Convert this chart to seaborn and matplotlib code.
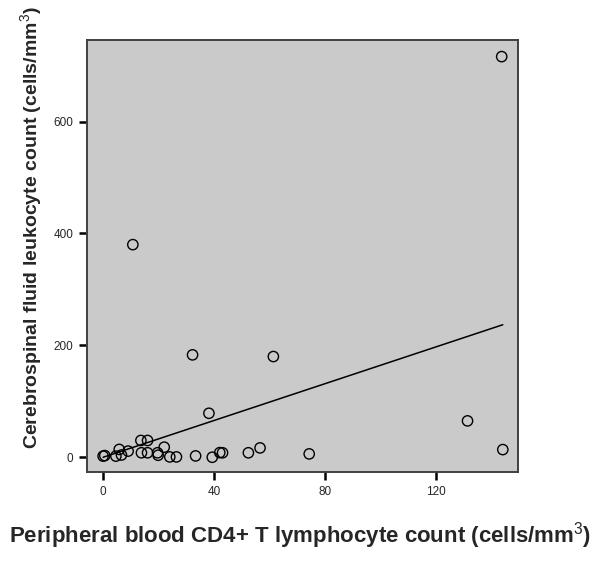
import matplotlib
matplotlib.use("Agg")
import matplotlib.pyplot as plt
import seaborn as sns
import pandas as pd

# ── Data ──────────────────────────────────────────────────────────────────
cd4_count = [0, 0.6, 4.6, 5.8, 6.6, 9, 10.7, 13.6, 16, 13.8, 16, 19.6, 19.8,
             22, 24, 26.4, 32.2, 33.3, 38.1, 39.3, 42, 43, 52.3, 56.5, 61.3,
             74.2, 131.2, 143.9, 143.5]
csf_leuko = [2, 3, 2, 14, 4, 11, 380, 30, 30, 8, 8, 8, 3.6,
             18, 0.6, 0.6, 183, 2.4, 78.6, 0, 8.3, 8, 8, 16.7, 180,
             6, 65, 13.7, 716]
x_ticks = [0, 40, 80, 120]
y_ticks = [0, 200, 400, 600]

X_LABEL = "Peripheral blood CD4+ T lymphocyte count (cells/mm$^{3}$)"
Y_LABEL = "Cerebrospinal fluid leukocyte count (cells/mm$^{3}$)"

df = pd.DataFrame({"cd4": cd4_count, "csf": csf_leuko})

# ── Style ────────────────────────────────────────────────────────────────
sns.set_style("white")
plt.rcParams["font.family"] = ["Liberation Sans", "DejaVu Sans"]
plt.rcParams["mathtext.fontset"] = "custom"
plt.rcParams["mathtext.rm"] = "Liberation Sans"
plt.rcParams["mathtext.it"] = "Liberation Sans"
plt.rcParams["mathtext.bf"] = "Liberation Sans:bold"

fig = plt.figure(figsize=(6.0, 5.61), dpi=100)
ax = fig.add_axes([0.145, 0.158, 0.718, 0.770])
ax.set_facecolor("#cacaca")

sns.regplot(data=df, x="cd4", y="csf", ax=ax, ci=None, color="black",
            scatter_kws={"s": 55, "facecolors": "none", "edgecolors": "black",
                         "linewidths": 1.0, "alpha": 1.0},
            line_kws={"color": "black", "linewidth": 1.1})

ax.set_xlim(-5.8, 149.3)
ax.set_ylim(-27, 745)
ax.set_xticks(x_ticks)
ax.set_yticks(y_ticks)
ax.tick_params(bottom=True, left=True, direction="out", length=6, width=1.8,
               color="black", labelsize=8.5, pad=4)

for sp in ax.spines.values():
    sp.set_color("#404040")
    sp.set_linewidth(1.4)

ax.set_xlabel(X_LABEL, fontsize=16, fontweight="bold")
ax.set_ylabel(Y_LABEL, fontsize=14, fontweight="bold")
ax.xaxis.set_label_coords(0.494, -0.11)
ax.yaxis.set_label_coords(-0.10, 0.566)

fig.savefig("out.png", dpi=100, facecolor="white")
plt.close(fig)
